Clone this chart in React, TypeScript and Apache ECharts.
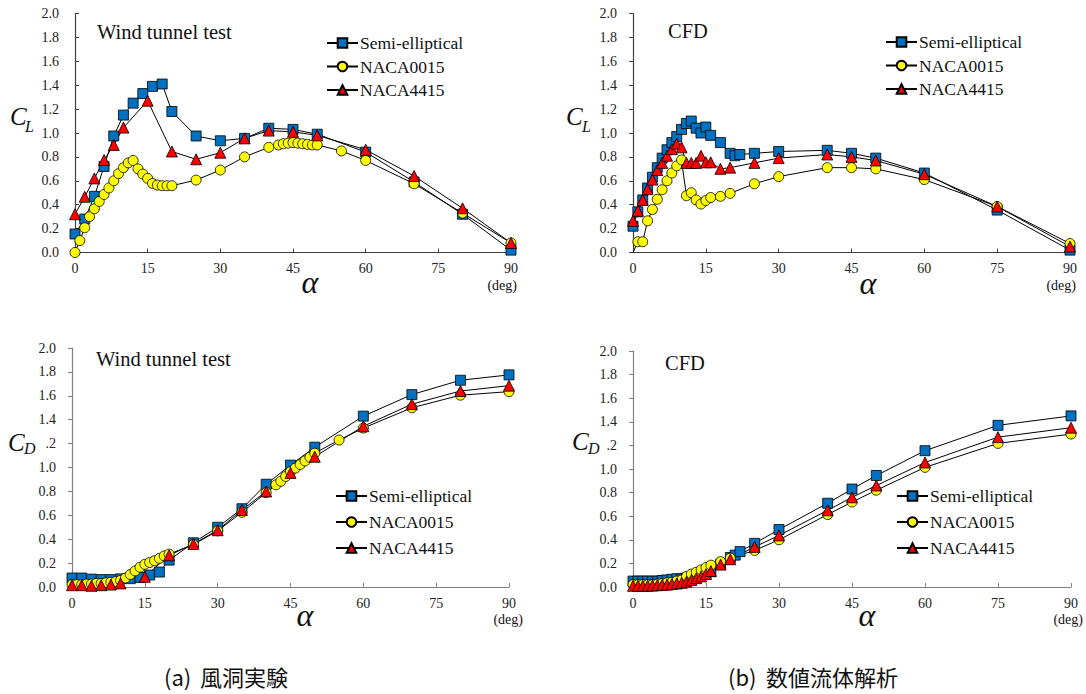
import React, { useEffect, useRef } from "react";
import * as echarts from "echarts";

// ---------- Data ----------
const seriesNames = ["Semi-elliptical", "NACA0015", "NACA4415"];

// (a) Wind tunnel test - CL
const wtSemiAlpha = [0, 2, 4, 6, 8, 10, 12, 14, 16, 18, 20, 25, 30, 35, 40, 45, 50, 60, 70, 80, 90];
const wtSemiCL = [0.155, 0.28, 0.47, 0.72, 0.975, 1.15, 1.25, 1.33, 1.39, 1.41, 1.18, 0.975, 0.935, 0.955, 1.04, 1.03, 0.99, 0.84, 0.59, 0.32, 0.02];
const wt4415Alpha = [0, 2, 4, 6, 8, 10, 15, 20, 25, 30, 35, 40, 45, 50, 60, 70, 80, 90];
const wt4415CL = [0.32, 0.466, 0.62, 0.774, 0.9, 1.045, 1.27, 0.845, 0.78, 0.835, 0.955, 1.02, 1.01, 0.98, 0.86, 0.64, 0.37, 0.08];
const wt0015AlphaCL = [0, 1, 2, 3, 4, 5, 6, 7, 8, 9, 10, 11, 12, 13, 14, 15, 16, 17, 18, 19, 20, 25, 30, 35, 40, 42, 43, 44, 45, 46, 47, 48, 49, 50, 55, 60, 70, 80, 90];
const wt0015CL = [0.0, 0.1, 0.207, 0.3, 0.366, 0.427, 0.486, 0.54, 0.6, 0.66, 0.71, 0.75, 0.77, 0.7, 0.656, 0.62, 0.578, 0.564, 0.559, 0.559, 0.559, 0.606, 0.69, 0.8, 0.88, 0.9, 0.91, 0.915, 0.92, 0.915, 0.91, 0.905, 0.9, 0.9, 0.85, 0.77, 0.575, 0.33, 0.08];

// (b) CFD - CL
const cfdAlpha = [0, 1, 2, 3, 4, 5, 6, 7, 8, 9, 10, 11, 12, 13, 14, 15, 16, 18, 20, 25, 30, 40, 45, 50, 60, 75, 90];
const cfdSemiAlpha = [0, 1, 2, 3, 4, 5, 6, 7, 8, 9, 10, 11, 12, 13, 14, 15, 16, 18, 20, 21, 22, 25, 30, 40, 45, 50, 60, 75, 90];
const cfdSemiCL = [0.22, 0.34, 0.44, 0.54, 0.63, 0.71, 0.79, 0.86, 0.92, 0.97, 1.03, 1.08, 1.1, 1.04, 1.0, 1.05, 0.98, 0.92, 0.83, 0.81, 0.82, 0.83, 0.845, 0.855, 0.83, 0.79, 0.665, 0.355, 0.02];
const cfd4415CL = [0.265, 0.35, 0.44, 0.53, 0.61, 0.69, 0.75, 0.81, 0.865, 0.91, 0.88, 0.75, 0.75, 0.75, 0.81, 0.755, 0.755, 0.7, 0.71, 0.75, 0.79, 0.82, 0.8, 0.77, 0.655, 0.385, 0.05];
const cfd0015CL = [0.0, 0.09, 0.09, 0.265, 0.36, 0.445, 0.525, 0.6, 0.665, 0.725, 0.775, 0.475, 0.5, 0.44, 0.405, 0.435, 0.46, 0.47, 0.495, 0.575, 0.635, 0.71, 0.71, 0.7, 0.61, 0.385, 0.075];

// (a) Wind tunnel test - CD
const wtSemiCD = [0.075, 0.075, 0.066, 0.062, 0.062, 0.068, 0.07, 0.08, 0.1, 0.125, 0.225, 0.37, 0.5, 0.655, 0.86, 1.02, 1.17, 1.43, 1.61, 1.73, 1.775];
const wt4415CD = [0.015, 0.015, 0.01, 0.015, 0.02, 0.03, 0.085, 0.265, 0.36, 0.475, 0.645, 0.8, 0.955, 1.09, 1.345, 1.53, 1.64, 1.685];
const wt0015AlphaCD = [0, 1, 2, 3, 4, 5, 6, 7, 8, 9, 10, 11, 12, 13, 14, 15, 16, 17, 18, 19, 20, 25, 30, 35, 40, 42, 43, 44, 45, 46, 47, 48, 49, 50, 55, 60, 70, 80, 90];
const wt0015CD = [0.02, 0.02, 0.02, 0.025, 0.025, 0.03, 0.03, 0.035, 0.04, 0.045, 0.055, 0.075, 0.105, 0.135, 0.165, 0.19, 0.205, 0.22, 0.24, 0.26, 0.275, 0.355, 0.47, 0.625, 0.79, 0.855, 0.885, 0.925, 0.965, 0.995, 1.025, 1.055, 1.085, 1.12, 1.23, 1.33, 1.5, 1.605, 1.635];

// (b) CFD - CD
const cfdSemiCD = [0.05, 0.05, 0.05, 0.05, 0.05, 0.05, 0.055, 0.06, 0.065, 0.07, 0.07, 0.075, 0.08, 0.09, 0.1, 0.11, 0.13, 0.19, 0.25, 0.27, 0.3, 0.37, 0.487, 0.71, 0.83, 0.945, 1.155, 1.37, 1.45];
const cfd4415CD = [0.01, 0.01, 0.01, 0.01, 0.012, 0.015, 0.018, 0.02, 0.025, 0.03, 0.035, 0.045, 0.06, 0.075, 0.09, 0.11, 0.135, 0.19, 0.235, 0.34, 0.437, 0.65, 0.76, 0.86, 1.055, 1.27, 1.35];
const cfd0015CD = [0.02, 0.02, 0.02, 0.02, 0.02, 0.025, 0.03, 0.035, 0.04, 0.05, 0.06, 0.09, 0.11, 0.125, 0.145, 0.165, 0.185, 0.215, 0.245, 0.31, 0.4, 0.614, 0.72, 0.82, 1.014, 1.217, 1.296];

const titles = ["Wind tunnel test", "CFD", "Wind tunnel test", "CFD"];
const captionTags = ["(a)", "(b)"];
const captionTexts = ["風洞実験", "数値流体解析"];

// ---------- Helpers ----------
const zip = (xs: number[], ys: number[], hideFirst = false) =>
  xs.map((x, i) => {
    if (hideFirst && i === 0) return { value: [x, ys[i]], symbol: "none" };
    return [x, ys[i]];
  });

const SERIF = "Liberation Serif, Times New Roman, serif";
const CJK = "Noto Sans CJK JP, Noto Sans, sans-serif";
const colors = ["#0070C0", "#FFFF00", "#FF0000"];
const symbols = ["rect", "circle", "triangle"];

export default function App() {
  const ref = useRef<HTMLDivElement>(null);

  useEffect(() => {
    if (!ref.current) return;
    const chart = echarts.init(ref.current, undefined, { renderer: "svg" });

    const grids = [
      { left: 75, top: 13.5, width: 436, height: 239 },
      { left: 633, top: 13.5, width: 437, height: 239 },
      { left: 72, top: 348, width: 437, height: 239 },
      { left: 633, top: 351, width: 438, height: 236 },
    ];

    const axisColors = ["#404040", "#404040", "#808080", "#808080"];

    const xAxes = grids.map((_, i) => ({
      type: "value",
      gridIndex: i,
      min: 0,
      max: 90,
      interval: 15,
      splitLine: { show: false },
      axisLine: { show: true, lineStyle: { color: axisColors[i], width: 1.2 } },
      axisTick: { show: true, inside: true, length: 4, lineStyle: { color: axisColors[i] } },
      axisLabel: { fontFamily: SERIF, fontSize: 14, color: "#222", margin: 9 },
    }));

    const yAxes = grids.map((_, i) => ({
      type: "value",
      gridIndex: i,
      min: 0,
      max: 2,
      interval: 0.2,
      splitLine: { show: false },
      axisLine: { show: true, lineStyle: { color: axisColors[i], width: 1.2 } },
      axisTick: { show: true, inside: i === 0, length: 4, lineStyle: { color: axisColors[i] } },
      axisLabel: {
        fontFamily: SERIF,
        fontSize: 14,
        color: "#222",
        margin: 16,
        formatter: (v: number) => {
          const s = v.toFixed(1);
          if (i >= 2 && s === "1.2") return ".2";
          return s;
        },
      },
    }));

    const mk = (idx: number, k: number, data: any[]) => ({
      name: seriesNames[k],
      type: "line",
      xAxisIndex: idx,
      yAxisIndex: idx,
      data,
      symbol: symbols[k],
      symbolSize: k === 2 ? 11 : 10,
      lineStyle: { color: "#000", width: 1 },
      itemStyle: { color: colors[k], borderColor: "#000", borderWidth: 0.8 },
      emphasis: { disabled: true },
    });

    const series = [
      mk(0, 0, zip(wtSemiAlpha, wtSemiCL)),
      mk(0, 1, zip(wt0015AlphaCL, wt0015CL)),
      mk(0, 2, zip(wt4415Alpha, wt4415CL)),
      mk(1, 0, zip(cfdSemiAlpha, cfdSemiCL)),
      mk(1, 1, zip(cfdAlpha, cfd0015CL, true)),
      mk(1, 2, zip(cfdAlpha, cfd4415CL)),
      mk(2, 0, zip(wtSemiAlpha, wtSemiCD)),
      mk(2, 1, zip(wt0015AlphaCD, wt0015CD)),
      mk(2, 2, zip(wt4415Alpha, wt4415CD)),
      mk(3, 0, zip(cfdSemiAlpha, cfdSemiCD)),
      mk(3, 1, zip(cfdAlpha, cfd0015CD)),
      mk(3, 2, zip(cfdAlpha, cfd4415CD)),
    ];

    const legendPos = [
      { left: 326, top: 34, itemGap: 5.5 },
      { left: 885, top: 33, itemGap: 5.5 },
      { left: 335, top: 487, itemGap: 8 },
      { left: 896, top: 487, itemGap: 8 },
    ];

    const legends = legendPos.map((p) => ({
      orient: "vertical",
      left: p.left,
      top: p.top,
      itemGap: p.itemGap,
      itemWidth: 31,
      itemHeight: 12,
      padding: 0,
      selectedMode: false,
      data: seriesNames,
      textStyle: {
        fontFamily: SERIF,
        fontSize: 17.5,
        lineHeight: 18,
        color: "#111",
        padding: [0, 0, 0, -3],
      },
    }));

    const txt = (
      x: number,
      y: number,
      text: string,
      size: number,
      family: string,
      italic = false,
      align = "left"
    ) => ({
      type: "text",
      x,
      y,
      z: 100,
      style: {
        text,
        fontSize: size,
        fontFamily: family,
        fontStyle: italic ? "italic" : "normal",
        fill: "#111",
        textAlign: align,
        textVerticalAlign: "middle",
      },
    });

    const graphic: any[] = [
      // titles
      txt(97, 32, titles[0], 20.5, SERIF),
      txt(668, 31, titles[1], 20.5, SERIF),
      txt(96, 359, titles[2], 20.5, SERIF),
      txt(665, 363, titles[3], 20.5, SERIF),
      // y labels C_L / C_D
      txt(10, 116, "C", 25, SERIF, true),
      txt(25, 126, "L", 16, SERIF, true),
      txt(566, 116, "C", 25, SERIF, true),
      txt(582, 126, "L", 16, SERIF, true),
      txt(8, 442, "C", 25, SERIF, true),
      txt(24, 448, "D", 16, SERIF, true),
      txt(572, 441, "C", 25, SERIF, true),
      txt(588, 448, "D", 16, SERIF, true),
      // alpha
      txt(310, 282, "α", 32, SERIF, true, "center"),
      txt(868, 283, "α", 32, SERIF, true, "center"),
      txt(305, 615, "α", 32, SERIF, true, "center"),
      txt(867, 615, "α", 32, SERIF, true, "center"),
      // (deg)
      txt(517, 285, "(deg)", 14, SERIF, false, "right"),
      txt(1076, 285, "(deg)", 14, SERIF, false, "right"),
      txt(523, 619, "(deg)", 14, SERIF, false, "right"),
      txt(1083, 619, "(deg)", 14, SERIF, false, "right"),
      // captions
      txt(164, 676, captionTags[0], 22, CJK),
      txt(200, 676, captionTexts[0], 22, CJK),
      txt(728, 676, captionTags[1], 22, CJK),
      txt(766, 676, captionTexts[1], 22, CJK),
    ];

    chart.setOption({
      animation: false,
      backgroundColor: "#fff",
      textStyle: { fontFamily: SERIF },
      grid: grids,
      xAxis: xAxes,
      yAxis: yAxes,
      legend: legends,
      series,
      graphic,
    });

    return () => chart.dispose();
  }, []);

  return (
    <div
      ref={ref}
      style={{ position: "absolute", left: 0, top: 0, width: 1086, height: 694 }}
    />
  );
}
